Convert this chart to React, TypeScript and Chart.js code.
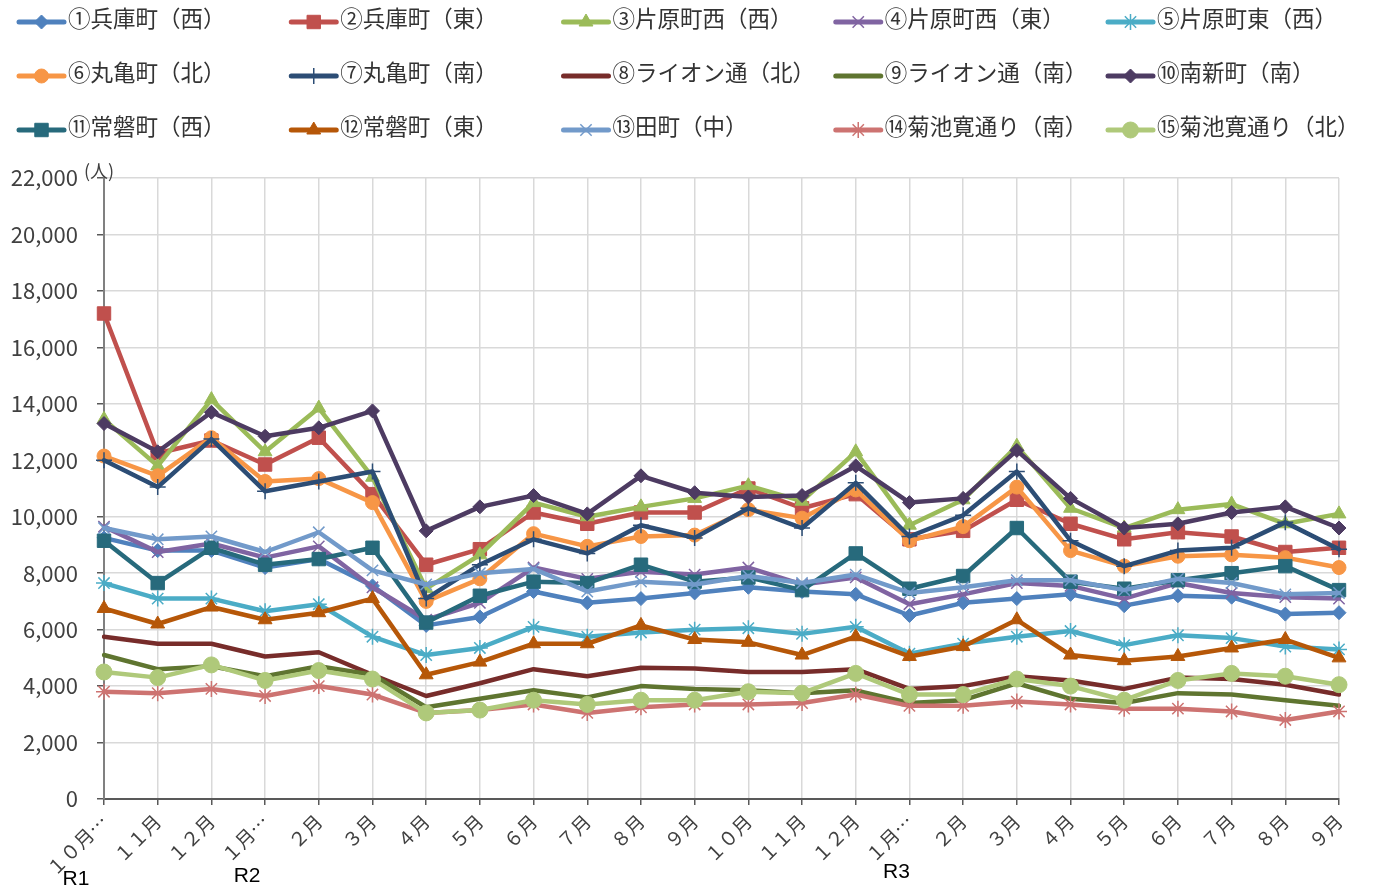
import React, { useEffect, useRef } from 'react';
import { Chart, registerables } from 'chart.js';
import { drawPoint } from 'chart.js/helpers';

Chart.register(...registerables);

const categories = ['１０月…', '１１月', '１２月', '１月…', '２月', '３月', '４月', '５月', '６月', '７月', '８月', '９月', '１０月', '１１月', '１２月', '１月…', '２月', '３月', '４月', '５月', '６月', '７月', '８月', '９月'];
const eraLabels = ['R1', 'R2', 'R3'];
const eraIndex = [0, 3, 15];

const seriesNames = ['①兵庫町（西）', '②兵庫町（東）', '③片原町西（西）', '④片原町西（東）', '⑤片原町東（西）', '⑥丸亀町（北）', '⑦丸亀町（南）', '⑧ライオン通（北）', '⑨ライオン通（南）', '⑩南新町（南）', '⑪常磐町（西）', '⑫常磐町（東）', '⑬田町（中）', '⑭菊池寛通り（南）', '⑮菊池寛通り（北）'];

const s1 = [9250, 8800, 8800, 8200, 8500, 7550, 6150, 6450, 7350, 6950, 7100, 7300, 7500, 7350, 7250, 6500, 6950, 7100, 7250, 6850, 7200, 7150, 6550, 6600];
const s2 = [17200, 12250, 12700, 11850, 12800, 10800, 8300, 8850, 10150, 9750, 10150, 10150, 11000, 10300, 10800, 9200, 9500, 10600, 9750, 9200, 9450, 9300, 8750, 8900];
const s3 = [13450, 11800, 14150, 12300, 13850, 11400, 7450, 8650, 10500, 10000, 10350, 10650, 11100, 10550, 12300, 9700, 10600, 12500, 10300, 9600, 10250, 10450, 9750, 10100];
const s4 = [9650, 8750, 9050, 8550, 8950, 7500, 6350, 6950, 8200, 7800, 8050, 7950, 8200, 7600, 7850, 6900, 7250, 7650, 7550, 7100, 7650, 7300, 7150, 7100];
const s5 = [7650, 7100, 7100, 6650, 6900, 5750, 5100, 5350, 6100, 5750, 5900, 6000, 6050, 5850, 6100, 5150, 5500, 5750, 5950, 5450, 5800, 5700, 5400, 5300];
const s6 = [12150, 11450, 12800, 11250, 11350, 10500, 7000, 7800, 9400, 8950, 9300, 9350, 10250, 9950, 10950, 9150, 9650, 11050, 8800, 8250, 8600, 8650, 8550, 8200];
const s7 = [12000, 11050, 12750, 10900, 11250, 11600, 7100, 8300, 9200, 8700, 9700, 9250, 10300, 9600, 11200, 9300, 10050, 11600, 9150, 8250, 8800, 8900, 9800, 8850];
const s8 = [5750, 5500, 5500, 5050, 5200, 4400, 3650, 4100, 4600, 4350, 4650, 4620, 4500, 4500, 4600, 3900, 4000, 4350, 4200, 3900, 4300, 4250, 4050, 3700];
const s9 = [5100, 4600, 4700, 4350, 4700, 4400, 3250, 3550, 3850, 3600, 4000, 3900, 3850, 3750, 3850, 3400, 3500, 4100, 3550, 3400, 3750, 3700, 3500, 3300];
const s10 = [13300, 12300, 13700, 12850, 13150, 13750, 9500, 10350, 10750, 10100, 11450, 10850, 10700, 10750, 11800, 10500, 10650, 12350, 10650, 9600, 9750, 10150, 10350, 9600];
const s11 = [9150, 7650, 8900, 8300, 8500, 8900, 6250, 7200, 7700, 7650, 8300, 7700, 7850, 7400, 8700, 7450, 7900, 9600, 7700, 7450, 7750, 8000, 8250, 7400];
const s12 = [6750, 6200, 6800, 6350, 6600, 7100, 4400, 4850, 5500, 5500, 6150, 5650, 5550, 5100, 5750, 5050, 5400, 6350, 5100, 4900, 5050, 5350, 5650, 5000];
const s13 = [9600, 9200, 9300, 8750, 9450, 8100, 7600, 8000, 8150, 7350, 7700, 7600, 7900, 7650, 7950, 7300, 7500, 7750, 7750, 7400, 7800, 7650, 7250, 7300];
const s14 = [3800, 3750, 3900, 3650, 4000, 3700, 3050, 3150, 3350, 3050, 3250, 3350, 3350, 3400, 3700, 3300, 3300, 3450, 3350, 3200, 3200, 3100, 2800, 3100];
const s15 = [4500, 4300, 4750, 4200, 4550, 4250, 3050, 3150, 3500, 3350, 3500, 3500, 3800, 3750, 4450, 3700, 3700, 4250, 4000, 3500, 4200, 4450, 4350, 4050];

const seriesValues = [s1, s2, s3, s4, s5, s6, s7, s8, s9, s10, s11, s12, s13, s14, s15];

const colors = ['#4F81BD', '#C0504D', '#9BBB59', '#8064A2', '#4BACC6', '#F79646', '#2C4D75', '#772C2A', '#5F7530', '#4D3B62', '#276A7C', '#B65708', '#729ACA', '#CD7371', '#AFC97A'];
const pointStyles = ['rectRot', 'rect', 'triangle', 'crossRot', 'star', 'circle', 'cross', 'circle', 'circle', 'rectRot', 'rect', 'triangle', 'crossRot', 'star', 'circle'];
const pointRadii = [7, 9.5, 8, 8, 8, 7, 8, 0, 0, 7, 9.5, 8, 8, 8, 8];

const JP = '"Noto Sans CJK JP", "Noto Sans", sans-serif';

const customPlugin = {
  id: 'customDecor',
  afterDraw(chart: any) {
    const ctx = chart.ctx;
    ctx.save();
    chart.data.datasets.forEach((ds: any, i: number) => {
      const col = i % 5;
      const row = Math.floor(i / 5);
      const x0 = 17 + col * 272.25;
      const y = 22 + row * 54;
      ctx.strokeStyle = ds.borderColor;
      ctx.lineWidth = 5;
      ctx.lineCap = 'round';
      ctx.beginPath();
      ctx.moveTo(x0 + 2, y);
      ctx.lineTo(x0 + 47, y);
      ctx.stroke();
      if (ds.pointRadius > 0) {
        ctx.fillStyle = ds.pointBackgroundColor;
        ctx.strokeStyle = ds.pointBorderColor;
        ctx.lineWidth = ds.pointBorderWidth;
        ctx.lineCap = 'butt';
        drawPoint(ctx, { pointStyle: ds.pointStyle, radius: ds.pointRadius, rotation: 0, borderWidth: ds.pointBorderWidth }, x0 + 24.5, y);
      }
      ctx.fillStyle = '#333333';
      ctx.font = '22.5px ' + JP;
      ctx.textAlign = 'left';
      ctx.textBaseline = 'middle';
      ctx.fillText(ds.label, x0 + 51, y - 4);
    });
    ctx.font = '18px ' + JP;
    ctx.fillStyle = '#404040';
    ctx.textAlign = 'left';
    ctx.textBaseline = 'middle';
    ctx.fillText('(人)', 84, 171);

    const xs = chart.scales.x;
    const offX = [-28, -18, -13];
    const posY = [879, 876, 872];
    ctx.font = '21px "Liberation Sans", Arial, sans-serif';
    ctx.fillStyle = '#000000';
    ctx.textAlign = 'center';
    eraLabels.forEach((t, k) => {
      ctx.fillText(t, xs.getPixelForValue(eraIndex[k]) + offX[k], posY[k]);
    });
    ctx.restore();
  },
};

export default function App() {
  const ref = useRef<HTMLCanvasElement | null>(null);
  useEffect(() => {
    document.body.style.margin = '0';
    document.body.style.overflow = 'hidden';
    if (!ref.current) return;
    const datasets = seriesValues.map((vals, i) => ({
      label: seriesNames[i],
      data: vals,
      borderColor: colors[i],
      backgroundColor: colors[i],
      borderWidth: 4.5,
      borderJoinStyle: 'round' as const,
      borderCapStyle: 'round' as const,
      pointStyle: pointStyles[i],
      pointRadius: pointRadii[i],
      pointHoverRadius: pointRadii[i],
      pointBackgroundColor: colors[i],
      pointBorderColor: colors[i],
      pointBorderWidth: pointStyles[i] === 'crossRot' || pointStyles[i] === 'star' || pointStyles[i] === 'cross' ? 1.5 : 1,
      tension: 0,
      fill: false,
      order: 15 - i,
    }));
    const chart = new Chart(ref.current, {
      type: 'line',
      data: { labels: categories, datasets },
      options: {
        responsive: false,
        animation: false,
        layout: { padding: { top: 178, right: 34, left: 0, bottom: 0 } },
        plugins: { legend: { display: false }, tooltip: { enabled: false } },
        scales: {
          x: {
            grid: { color: '#D9D9D9', lineWidth: 1.5, tickColor: '#595959', tickLength: 6 },
            border: { color: '#595959', width: 2 },
            ticks: { autoSkip: false, maxRotation: 45, minRotation: 45, padding: 5, color: '#404040', font: { family: JP, size: 19 } },
            afterFit: (s: any) => { s.height = 93; },
          },
          y: {
            min: 0,
            max: 22000,
            grid: { color: '#D9D9D9', lineWidth: 1.5, tickColor: '#595959', tickLength: 7 },
            border: { color: '#808080', width: 2 },
            ticks: { stepSize: 2000, padding: 19, color: '#404040', font: { family: JP, size: 22 } },
            afterFit: (s: any) => { s.width = 104; },
          },
        },
      },
      plugins: [customPlugin],
    });
    return () => chart.destroy();
  }, []);
  return <canvas ref={ref} width={1373} height={892} style={{ display: 'block' }} />;
}
